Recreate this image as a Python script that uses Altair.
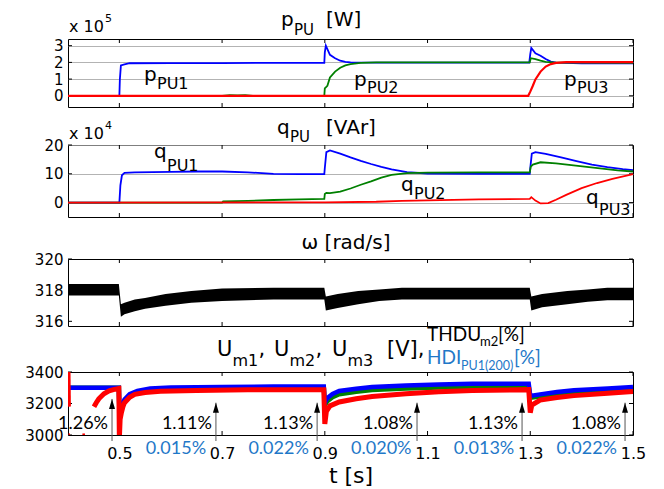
import altair as alt
import pandas as pd

# ---------------- data ----------------
T_DOMAIN = [0.4, 1.5]
T_TICKS = [0.5, 0.7, 0.9, 1.1, 1.3, 1.5]

# p_PU  (x 1e5 W)
p1_t = [0.4, 0.5, 0.501, 0.503, 0.51, 0.52, 0.6, 0.7, 0.8, 0.899, 0.9, 0.902, 0.91, 0.92, 0.93, 0.94, 0.95, 1.0, 1.1, 1.2, 1.298, 1.3, 1.302, 1.31, 1.32, 1.33, 1.34, 1.35, 1.4, 1.5]
p1_v = [0, 0, 1.0, 1.82, 1.88, 1.95, 1.96, 1.96, 1.97, 1.97, 2.6, 3.0, 2.45, 2.25, 2.1, 2.03, 2.0, 1.98, 1.99, 1.99, 1.99, 2.5, 2.87, 2.55, 2.4, 2.2, 2.05, 1.98, 1.95, 1.95]
p2_t = [0.4, 0.7, 0.715, 0.73, 0.745, 0.76, 0.899, 0.9, 0.905, 0.91, 0.92, 0.93, 0.94, 0.95, 0.97, 1.0, 1.1, 1.2, 1.299, 1.301, 1.31, 1.32, 1.33, 1.35, 1.4, 1.5]
p2_v = [0, 0, 0.04, 0.02, 0.04, 0, 0, 0.45, 0.6, 1.1, 1.45, 1.68, 1.82, 1.9, 1.97, 2.0, 2.0, 2.0, 2.0, 2.25, 2.2, 2.1, 2.03, 1.99, 1.98, 1.98]
p3_t = [0.4, 1.296, 1.3, 1.305, 1.31, 1.32, 1.33, 1.34, 1.35, 1.37, 1.4, 1.5]
p3_v = [0, 0, 0.25, 0.6, 0.98, 1.45, 1.75, 1.9, 1.97, 2.01, 2.02, 2.02]

# q_PU  (x 1e4 VAr)
q1_t = [0.4, 0.5, 0.502, 0.505, 0.51, 0.53, 0.6, 0.65, 0.7, 0.75, 0.8, 0.85, 0.899, 0.9, 0.903, 0.91, 0.93, 0.95, 0.97, 0.99, 1.01, 1.03, 1.06, 1.1, 1.2, 1.299, 1.3, 1.303, 1.31, 1.33, 1.36, 1.39, 1.42, 1.45, 1.48, 1.5]
q1_v = [0, 0, 6.0, 9.5, 10.3, 10.5, 10.7, 10.8, 10.8, 10.5, 10.0, 9.9, 9.9, 12.0, 17.5, 18.1, 17.0, 15.7, 14.5, 13.4, 12.4, 11.5, 10.6, 10.1, 10.0, 10.0, 12.0, 17.0, 17.5, 16.9, 15.7, 14.4, 13.2, 12.3, 11.6, 11.3]
q2_t = [0.4, 0.7, 0.702, 0.75, 0.8, 0.85, 0.899, 0.9, 0.903, 0.91, 0.93, 0.95, 0.97, 0.99, 1.01, 1.03, 1.06, 1.1, 1.2, 1.299, 1.301, 1.305, 1.32, 1.35, 1.38, 1.41, 1.44, 1.47, 1.5]
q2_v = [0, 0, 0.4, 0.6, 0.9, 1.1, 1.3, 3.0, 3.4, 3.3, 3.8, 4.9, 6.2, 7.4, 8.7, 9.6, 10.2, 10.4, 10.5, 10.5, 12.5, 13.2, 14.0, 13.6, 13.0, 12.4, 11.8, 11.2, 10.8]
q3_t = [0.4, 0.9, 1.0, 1.05, 1.1, 1.2, 1.299, 1.302, 1.31, 1.32, 1.335, 1.35, 1.37, 1.4, 1.43, 1.46, 1.5]
q3_v = [0, 0.1, 0.3, 0.6, 0.8, 1.1, 1.3, 1.9, 0.7, -0.3, -0.2, 1.0, 2.7, 5.0, 6.8, 8.2, 9.9]

# omega band (rad/s)
w_t = [0.4, 0.499, 0.503, 0.51, 0.53, 0.55, 0.59, 0.64, 0.7, 0.8, 0.899, 0.902, 0.925, 0.965, 1.006, 1.05, 1.2, 1.299, 1.302, 1.323, 1.372, 1.412, 1.45, 1.5]
w_hi = [318.4, 318.4, 317.1, 317.2, 317.4, 317.5, 317.75, 317.95, 318.1, 318.15, 318.15, 317.6, 317.75, 317.95, 318.05, 318.15, 318.15, 318.15, 317.6, 317.75, 317.95, 318.05, 318.15, 318.15]
w_lo = [317.65, 317.65, 316.3, 316.45, 316.65, 316.8, 317.0, 317.2, 317.3, 317.4, 317.4, 316.7, 316.85, 317.1, 317.3, 317.4, 317.4, 317.4, 316.7, 316.9, 317.1, 317.25, 317.35, 317.35]

# U_m (V)
ub_t = [0.4, 0.499, 0.5, 0.503, 0.51, 0.52, 0.535, 0.56, 0.6, 0.7, 0.8, 0.898, 0.9, 0.905, 0.915, 0.928, 0.961, 0.992, 1.058, 1.122, 1.187, 1.297, 1.3, 1.319, 1.352, 1.385, 1.451, 1.5]
ub_v = [3300, 3300, 3170, 3170, 3225, 3260, 3280, 3295, 3302, 3305, 3308, 3308, 3205, 3235, 3260, 3279, 3294, 3305, 3315, 3320, 3325, 3325, 3248, 3258, 3273, 3284, 3296, 3305]
ug_v = [3300, 3300, 3165, 3165, 3218, 3252, 3272, 3287, 3294, 3297, 3300, 3300, 3188, 3215, 3240, 3259, 3274, 3286, 3296, 3302, 3307, 3307, 3236, 3244, 3259, 3270, 3282, 3291]
ur_seg = [0, 0, 1, 1, 2, 2] + [3] * 37
ur_t = [0.4, 0.4008, 0.401, 0.404, 0.428, 0.433,
        0.4506, 0.455, 0.46, 0.47, 0.48, 0.49, 0.499, 0.5, 0.5015, 0.504, 0.507, 0.51, 0.52, 0.53, 0.55, 0.58, 0.65,
        0.75, 0.85, 0.898, 0.9, 0.903, 0.91, 0.928, 0.961, 0.992, 1.058, 1.122, 1.187, 1.297,
        1.3, 1.303, 1.319, 1.352, 1.385, 1.451, 1.5]
ur_v = [3400, 3180, 2994, 2994, 2994, 2994,
        3180, 3205, 3230, 3262, 3280, 3290, 3295, 2980, 3100, 3142, 3180, 3205, 3240, 3258, 3270, 3278, 3283,
        3287, 3288, 3288, 3070, 3150, 3185, 3210, 3230, 3245, 3262, 3274, 3282, 3288,
        3142, 3190, 3222, 3238, 3250, 3265, 3276]

# annotations
arrow_t = [0.4857, 0.688, 0.885, 1.0795, 1.284, 1.4845]
arrow_tip = [3229, 3205, 3205, 3205, 3205, 3205]
thd_text = ["1.26%", "1.11%", "1.13%", "1.08%", "1.13%", "1.08%"]
hdi_t = [0.7, 0.9, 1.1, 1.3, 1.5]
hdi_text = ["0.015%", "0.022%", "0.020%", "0.013%", "0.022%"]

# ---------------- style ----------------
W = 565
SANS = "DejaVu Sans"
CAL = "Lato"
BLUE = "#0000ff"
GREEN = "#008000"
RED = "#ff0000"
TXT_BLUE = "#1f78c8"
ONE = pd.DataFrame({"a": [0]})


def X(axis=None):
    return alt.X("t:Q", scale=alt.Scale(domain=T_DOMAIN, nice=False, zero=False), axis=axis)


def Y(field, dom, axis):
    return alt.Y(f"{field}:Q", scale=alt.Scale(domain=dom, nice=False, zero=False), axis=axis)


def yaxis(vals, grid):
    return alt.Axis(values=vals, format="d", ticks=False, domain=False, grid=grid, gridColor="#a0a0a0",
                    gridWidth=0.8, labelFont=SANS, labelFontSize=15, labelColor="black",
                    labelPadding=5, title=None)


def txt(s, x, y, size=20, font=SANS, color="black", align="left"):
    return alt.Chart(ONE).mark_text(text=s, font=font, fontSize=size, color=color,
                                    align=align, baseline="alphabetic").encode(
        x=alt.value(x), y=alt.value(y))


def frame(h, yvals, Xa, Ya):
    xt = pd.DataFrame({"t": T_TICKS})
    yt = pd.DataFrame({"v": yvals})
    r = dict(color="black", strokeWidth=1)
    return [
        alt.Chart(xt).mark_rule(**r).encode(x=Xa, y=alt.value(0), y2=alt.value(4)),
        alt.Chart(xt).mark_rule(**r).encode(x=Xa, y=alt.value(h - 4), y2=alt.value(h)),
        alt.Chart(yt).mark_rule(**r).encode(y=Ya, x=alt.value(0), x2=alt.value(4)),
        alt.Chart(yt).mark_rule(**r).encode(y=Ya, x=alt.value(W - 4), x2=alt.value(W)),
    ]


def line(t, v, color, width, Xa, Ya, clip=False):
    return alt.Chart(pd.DataFrame({"t": t, "v": v})).mark_line(
        color=color, strokeWidth=width, clip=clip, interpolate="linear").encode(x=Xa, y=Ya)


def spacer(h):
    return alt.Chart(ONE).mark_point(opacity=0).encode(
        x=alt.value(0), y=alt.value(0)).properties(
        width=W, height=h, view=alt.ViewBackground(stroke=None))


# ---- panel 1: p_PU ----
h1 = 68
Xa = X(None)
Ya = Y("v", [-0.67, 3.4], yaxis([0, 1, 2, 3], True))
c1 = alt.layer(
    *frame(h1, [0, 1, 2, 3], Xa, Ya),
    line(p1_t, p1_v, BLUE, 1.8, Xa, Ya),
    line(p2_t, p2_v, GREEN, 1.8, Xa, Ya),
    line(p3_t, p3_v, RED, 2.2, Xa, Ya),
    txt("x 10", 1, -7, 16), txt("5", 37, -17, 11),
    txt("p", 213, -13), txt("PU", 226, -4, 15), txt("[W]", 258, -13),
    txt("p", 76, 42), txt("PU1", 89, 50, 16),
    txt("p", 286, 47), txt("PU2", 299, 54, 16),
    txt("p", 496, 47), txt("PU3", 509, 54, 16),
).properties(width=W, height=h1)

# ---- panel 2: q_PU ----
h2 = 72
Ya = Y("v", [-5, 20], yaxis([0, 10, 20], True))
c2 = alt.layer(
    *frame(h2, [0, 10, 20], Xa, Ya),
    line(q1_t, q1_v, BLUE, 1.8, Xa, Ya),
    line(q2_t, q2_v, GREEN, 1.8, Xa, Ya),
    line(q3_t, q3_v, RED, 1.8, Xa, Ya),
    txt("x 10", 1, -6, 16), txt("4", 37, -16, 11),
    txt("q", 209, -11), txt("PU", 222, -3, 15), txt("[VAr]", 258, -11),
    txt("q", 86, 13), txt("PU1", 99, 26, 16),
    txt("q", 333, 46), txt("PU2", 346, 54, 16),
    txt("q", 518, 59), txt("PU3", 531, 70, 16),
).properties(width=W, height=h2)

# ---- panel 3: omega ----
h3 = 67
Ya = Y("v", [315.7, 320], yaxis([316, 318, 320], False))
Ylo = Y("lo", [315.7, 320], yaxis([316, 318, 320], False))
band = alt.Chart(pd.DataFrame({"t": w_t, "lo": w_lo, "hi": w_hi})).mark_area(
    color="black", opacity=1).encode(x=Xa, y=Ylo, y2="hi:Q")
c3 = alt.layer(
    *frame(h3, [316, 318, 320], Xa, Ya),
    band,
    txt("\u03c9 [rad/s]", 278, -10, 20, align="center"),
).properties(width=W, height=h3)

# ---- panel 4: U_m ----
h4 = 63
Xb = X(alt.Axis(values=T_TICKS, format=".1f", ticks=False, domain=False, grid=False,
                labelFont=SANS, labelFontSize=16, labelColor="black", labelPadding=10,
                labelFlush=False, title="t [s]", titleFont=SANS, titleFontSize=22,
                titleFontWeight="normal", titleColor="black", titlePadding=4))
Ya = Y("v", [3000, 3400], yaxis([3000, 3200, 3400], False))
red_u = alt.Chart(pd.DataFrame({"t": ur_t, "v": ur_v, "seg": ur_seg})).mark_line(
    color=RED, strokeWidth=5, clip=True).encode(x=Xb, y=Ya, detail="seg:N")
arr_df = pd.DataFrame({"t": arrow_t, "v": arrow_tip, "txt": thd_text})
shaft = alt.Chart(arr_df).mark_rule(color="#555555", strokeWidth=1).encode(
    x=Xb, y=Ya, y2=alt.value(h4 + 6))
head = alt.Chart(arr_df).mark_point(shape="M0,-1L0.6,1L-0.6,1Z", size=100, filled=True,
                                    color="black", opacity=1, yOffset=5).encode(x=Xb, y=Ya)
thd_lbl = alt.Chart(arr_df).mark_text(font=CAL, fontSize=18, color="black", align="right",
                                      baseline="middle", dx=-4).encode(
    x=Xb, y=alt.value(52), text="txt:N")
hdi_lbl = alt.Chart(pd.DataFrame({"t": hdi_t, "txt": hdi_text})).mark_text(
    font=CAL, fontSize=18, color=TXT_BLUE, align="right", baseline="middle", dx=-16).encode(
    x=Xb, y=alt.value(77), text="txt:N")

title4 = []
for ux, sub in zip([149, 206, 264], ["m1", "m2", "m3"]):
    title4.append(txt("U", ux, -16, 21))
    title4.append(txt(sub, ux + 15.5, -6, 16))
    if sub != "m3":
        title4.append(txt(",", ux + 41.5, -16, 21))
title4 += [
    txt("[V],", 319, -16, 21),
    txt("THDU", 359, -31, 19, font=CAL), txt("m2", 412, -26, 13, font=CAL), txt("[%]", 430, -31, 19, font=CAL),
    txt("HDI", 359, -8, 19, font=CAL, color=TXT_BLUE), txt("PU1(200)", 393, -2, 12.5, font=CAL, color=TXT_BLUE),
    txt("[%]", 446, -8, 19, font=CAL, color=TXT_BLUE),
]

c4 = alt.layer(
    *frame(h4, [3000, 3200, 3400], Xb, Ya),
    line(ub_t, ug_v, GREEN, 4.5, Xb, Ya, clip=True),
    line(ub_t, ub_v, BLUE, 4.5, Xb, Ya, clip=True),
    red_u,
    shaft, head, thd_lbl, hdi_lbl,
    *title4,
).properties(width=W, height=h4)

chart = alt.vconcat(c1, spacer(38), c2, spacer(42), c3, spacer(46), c4,
                    spacing=0, bounds="flush").properties(
    padding={"left": 16, "top": 1, "right": 5, "bottom": 0},
    background="white",
).configure_view(stroke="black", strokeWidth=1)

chart.save("out.html", embed_options={"renderer": "svg", "actions": False})
